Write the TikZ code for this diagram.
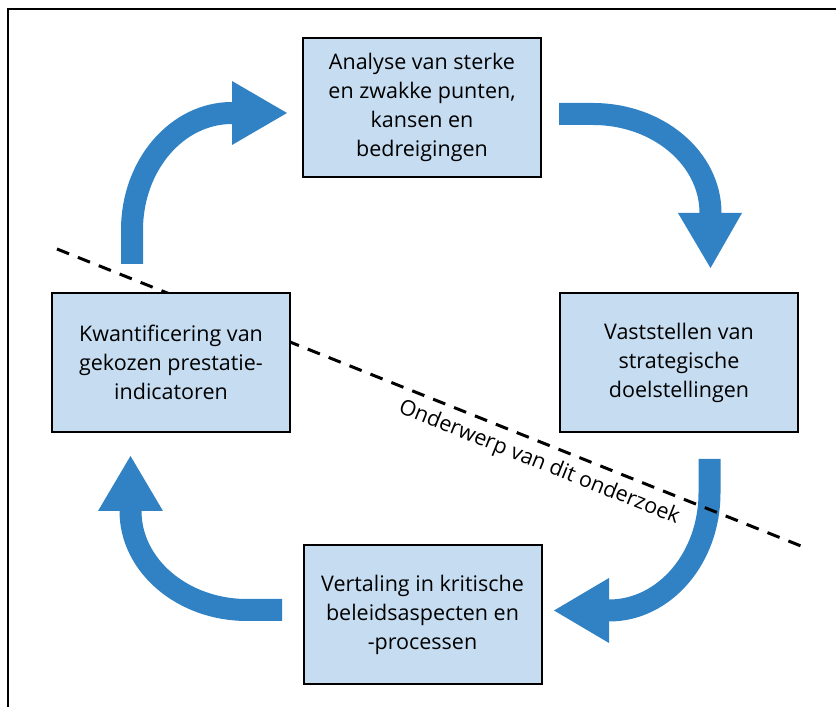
\documentclass[tikz,border=0pt]{standalone}
\usepackage{fontspec}
\setmainfont{Open Sans}
\definecolor{arrowblue}{HTML}{3182C4}
\definecolor{boxblue}{HTML}{C5DCF1}
\tikzset{
  stepbox/.style={draw=black, line width=2pt, fill=boxblue, minimum width=238pt, minimum height=139pt,
    inner sep=0pt, align=center, font=\fontsize{21.5}{29}\selectfont},
  shaft/.style={draw=arrowblue, line width=22pt},
  headtri/.style={fill=arrowblue},
  cutline/.style={draw=black, line width=3pt, dash pattern=on 13pt off 9.5pt},
  frameline/.style={draw=black, line width=1.5pt}
}
\begin{document}
\begin{tikzpicture}[x=1pt,y=1pt]
\useasboundingbox (0,0) rectangle (836,707);
% frame
\coordinate (f1) at (836,698);
\coordinate (f2) at (8,698);
\coordinate (f3) at (8,0);
\draw[frameline] (f1) -- (f2) -- (f3);
% arrows
% top-left
\draw[shaft] (132,443) -- (132,477) arc[start angle=180, end angle=90, x radius=100, y radius=117] -- (234,594);
\fill[headtri] (232,626) -- (287,594) -- (232,562) -- cycle;
% top-right
\draw[shaft] (559,593) -- (593,593) arc[start angle=90, end angle=0, x radius=117.5, y radius=99] -- (710.5,492);
\fill[headtri] (678,494) -- (710.5,439) -- (742,494) -- cycle;
% right-bottom
\draw[shaft] (709.5,248) -- (709.5,214) arc[start angle=0, end angle=-90, x radius=100.5, y radius=117.5] -- (607,96.5);
\fill[headtri] (609,129) -- (554,96.5) -- (609,64) -- cycle;
% bottom-left
\draw[shaft] (282,97) -- (247,97) arc[start angle=270, end angle=180, x radius=116.5, y radius=99] -- (130.5,198);
\fill[headtri] (98,196) -- (130.5,251) -- (163,196) -- cycle;
% dashed line
\coordinate (d1) at (57,458);
\coordinate (d2) at (806,159);
\draw[cutline] (d1) -- (d2);
\node[rotate=-21.8, inner sep=1pt, font=\fontsize{21.5}{24}\selectfont] (lbl) at (539,244) {Onderwerp van dit onderzoek};
% boxes
\node[stepbox] (top) at (422,599.5) {Analyse van sterke\\en zwakke punten,\\kansen en\\bedreigingen};
\node[stepbox] (right) at (679,344.5) {Vaststellen van\\strategische\\doelstellingen};
\node[stepbox] (bottom) at (422.5,92.5) {Vertaling in kritische\\beleidsaspecten en\\-processen};
\node[stepbox] (left) at (171,344.5) {Kwantificering van\\gekozen prestatie-\\indicatoren};
\end{tikzpicture}
\end{document}
